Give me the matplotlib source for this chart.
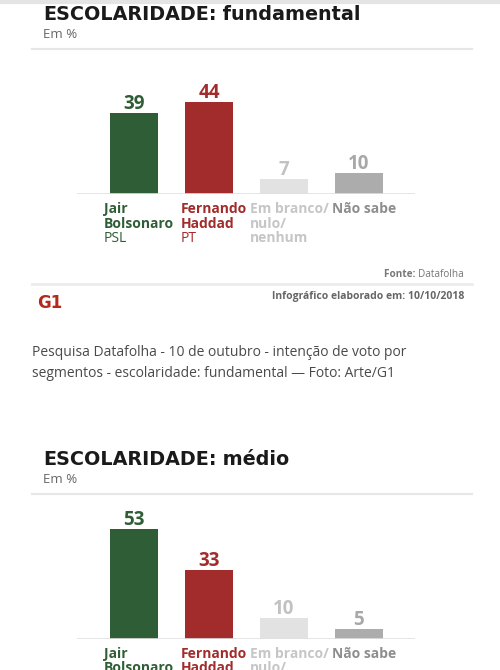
import matplotlib
matplotlib.use("Agg")
import matplotlib.pyplot as plt
from matplotlib.lines import Line2D

# --- data ---
categories = ["Jair Bolsonaro", "Fernando Haddad", "Em branco/nulo/nenhum", "Não sabe"]
label_lines = [["Jair", "Bolsonaro"], ["Fernando", "Haddad"], ["Em branco/", "nulo/", "nenhum"], ["Não sabe"]]
parties = ["PSL", "PT", "", ""]
fundamental = [39, 44, 7, 10]
medio = [53, 33, 10, 5]
titles = [("ESCOLARIDADE:", " fundamental"), ("ESCOLARIDADE:", " médio")]

bar_colors = ["#2f5e36", "#a22b2b", "#e2e2e2", "#acacac"]
value_colors = ["#2f5e36", "#a22b2b", "#c2c2c2", "#a8a8a8"]
label_colors = ["#2f5e36", "#a22b2b", "#c6c6c6", "#8e8e8e"]

W, H = 500, 670
PT = 72 / 100  # points per pixel
TITLE_FONT = "DejaVu Sans"
BODY_FONT = "Open Sans"

fig = plt.figure(figsize=(W / 100, H / 100), dpi=100)
fig.patch.set_facecolor("white")


def fx(x):
    return x / W


def fy(y):
    return 1 - y / H


def hline(y, x0, x1, color="#e6e6e6", lw=1.5):
    fig.add_artist(Line2D([fx(x0), fx(x1)], [fy(y), fy(y)], color=color, lw=lw,
                          transform=fig.transFigure))


def draw_panel(top, values, title):
    # title block
    t1 = fig.text(fx(43), fy(top), title[0], fontsize=13.8, fontweight="bold",
                  family=TITLE_FONT, color="#1a1a1a", va="baseline")
    fig.canvas.draw()
    bb = t1.get_window_extent()
    fig.text(bb.x1 / W, fy(top), title[1], fontsize=13.8, fontweight="bold",
             family=TITLE_FONT, color="#1a1a1a", va="baseline")
    fig.text(fx(43), fy(top + 18), "Em %", fontsize=9.5, family=BODY_FONT,
             color="#666666", va="baseline")
    hline(top + 29, 32, 472)

    baseline = top + 174
    scale = 2.08
    ymax = 60
    ax = fig.add_axes([fx(76.7), fy(baseline), 338.3 / W, ymax * scale / H])
    x = range(len(values))
    ax.bar(x, values, width=0.64, color=bar_colors)
    ax.set_xlim(-0.764, 3.747)
    ax.set_ylim(0, ymax)
    ax.axis("off")
    ax.axhline(0, color="#e0e0e0", lw=1.2)

    for i, v in enumerate(values):
        ax.annotate(str(v), (i, v), xytext=(0, 4 * PT), textcoords="offset points",
                    ha="center", va="baseline", fontsize=13.5, fontweight="bold",
                    family=BODY_FONT, color=value_colors[i])

    # category labels: left-aligned block, centred under bar
    for i, lines in enumerate(label_lines):
        texts = []
        for k, line in enumerate(lines):
            t = ax.annotate(line, (i, 0), xytext=(0, -(19 + 14.5 * k) * PT),
                            textcoords="offset points", ha="left", va="baseline",
                            fontsize=10, fontweight="bold", family=BODY_FONT,
                            color=label_colors[i], annotation_clip=False)
            texts.append(t)
        if parties[i]:
            t = ax.annotate(parties[i], (i, 0), xytext=(0, -(19 + 14.5 * len(lines)) * PT),
                            textcoords="offset points", ha="left", va="baseline",
                            fontsize=10, family=BODY_FONT,
                            color=label_colors[i], annotation_clip=False)
            texts.append(t)
        fig.canvas.draw()
        width = max(t.get_window_extent().width for t in texts[:len(lines)])
        dx = (-width / 2 + 5) * PT
        for t in texts:
            t.xyann = (dx, t.xyann[1])


# top shadow
hline(1.5, 0, W, color="#e4e4e4", lw=3)

draw_panel(20, fundamental, titles[0])

# footer
t = fig.text(fx(464), fy(277), "Datafolha", fontsize=7.2, family=BODY_FONT,
             color="#777777", ha="right", va="baseline")
fig.canvas.draw()
bb = t.get_window_extent()
fig.text(bb.x0 / W, fy(277), "Fonte: ", fontsize=7.2, fontweight="bold", family=BODY_FONT,
         color="#777777", ha="right", va="baseline")
hline(284, 32, 472, color="#ececec", lw=2)
fig.text(fx(37.5), fy(308), "G1", fontsize=12, fontweight="bold", family=TITLE_FONT,
         color="#b5281c", va="baseline")
fig.text(fx(464), fy(299.5), "Infográfico elaborado em: 10/10/2018", fontsize=7.5,
         fontweight="bold", family=BODY_FONT, color="#666666", ha="right", va="baseline")

# caption
fig.text(fx(32), fy(356.5), "Pesquisa Datafolha - 10 de outubro - intenção de voto por",
         fontsize=10, family=BODY_FONT, color="#4a4a4a", va="baseline")
fig.text(fx(32), fy(377), "segmentos - escolaridade: fundamental \u2014 Foto: Arte/G1",
         fontsize=10, family=BODY_FONT, color="#4a4a4a", va="baseline")

draw_panel(465, medio, titles[1])

fig.savefig("out.png", dpi=100)
